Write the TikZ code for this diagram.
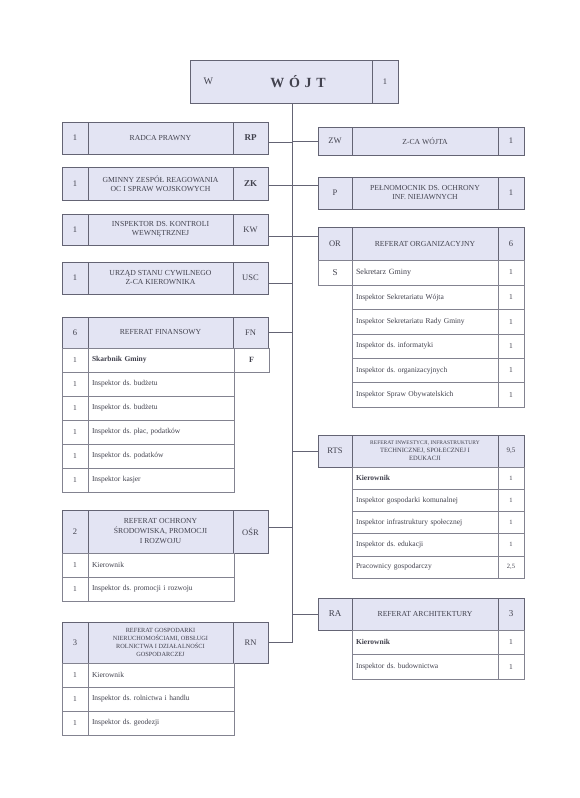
\documentclass[tikz,border=0pt]{standalone}
\usepackage{fontspec}
\setmainfont{Liberation Serif}
\usepackage{tikz}
\usetikzlibrary{positioning}
\definecolor{headc}{RGB}{227,228,243}
\definecolor{framec}{RGB}{100,100,116}
\definecolor{inkc}{RGB}{66,66,78}
\frenchspacing

\begin{document}
\begin{tikzpicture}[x=1pt, y=-1pt,
  % lavender header cells
  hcell/.style={draw=framec, line width=0.9pt, fill=headc, outer sep=0pt, inner sep=1pt,
                align=center, text=inkc, font=\fontsize{7.7pt}{9pt}\selectfont},
  hnum/.style={hcell, font=\fontsize{8.5pt}{10pt}\selectfont},
  % white list rows under a department
  rnum/.style={draw=framec!80, line width=0.6pt, fill=white, outer sep=0pt, inner sep=0pt,
               minimum width=26pt, text=inkc, font=\fontsize{7.5pt}{9pt}\selectfont},
  rname/.style={draw=framec!80, line width=0.6pt, fill=white, outer sep=0pt, inner xsep=4pt, inner ysep=0pt,
                text width=138pt, align=left, text=inkc, font=\fontsize{7.5pt}{9pt}\selectfont},
  link/.style={framec, line width=0.8pt},
]

\fill[white] (0,0) rectangle (580,798);
\useasboundingbox (0,0) rectangle (580,798);

%% ── head of the office ───────────────────────────────────────────
\node[hcell, anchor=north west, minimum width=182pt, minimum height=43pt] (wojt) at (190,60) {};
\node[hnum, right=0pt of wojt, minimum width=26pt, minimum height=43pt] (wojt-n) {1};
\node[text=inkc, font=\fontsize{10pt}{12pt}\selectfont, right=10pt of wojt.west] (wojt-w) {W};
\node[text=inkc, font=\fontsize{14pt}{16pt}\selectfont\bfseries] (wojt-t) at (298,81.5) {W\,\,Ó\,\,J\,\,T};

%% ── left column : single posts ───────────────────────────────────
\node[hnum, anchor=north west, minimum width=26pt, minimum height=32pt] (rp-n) at (62,122) {1};
\node[hcell, right=0pt of rp-n, minimum width=145pt, minimum height=32pt] (rp) {RADCA PRAWNY};
\node[hnum, right=0pt of rp, minimum width=35pt, minimum height=32pt, font=\fontsize{9pt}{10pt}\selectfont\bfseries] (rp-a) {RP};

\node[hnum, anchor=north west, minimum width=26pt, minimum height=33pt] (zk-n) at (62,167) {1};
\node[hcell, right=0pt of zk-n, minimum width=145pt, minimum height=33pt] (zk) {GMINNY ZESPÓŁ REAGOWANIA\\OC I SPRAW WOJSKOWYCH};
\node[hnum, right=0pt of zk, minimum width=35pt, minimum height=33pt, font=\fontsize{9pt}{10pt}\selectfont\bfseries] (zk-a) {ZK};

\node[hnum, anchor=north west, minimum width=26pt, minimum height=31pt] (kw-n) at (62,214) {1};
\node[hcell, right=0pt of kw-n, minimum width=145pt, minimum height=31pt] (kw) {INSPEKTOR DS. KONTROLI\\WEWNĘTRZNEJ};
\node[hnum, right=0pt of kw, minimum width=35pt, minimum height=31pt] (kw-a) {KW};

\node[hnum, anchor=north west, minimum width=26pt, minimum height=32pt] (usc-n) at (62,262) {1};
\node[hcell, right=0pt of usc-n, minimum width=145pt, minimum height=32pt] (usc) {URZĄD STANU CYWILNEGO\\Z-CA KIEROWNIKA};
\node[hnum, right=0pt of usc, minimum width=35pt, minimum height=32pt] (usc-a) {USC};

%% ── left column : finance department ─────────────────────────────
\node[hnum, anchor=north west, minimum width=26pt, minimum height=31pt] (fn-n) at (62,317) {6};
\node[hcell, right=0pt of fn-n, minimum width=145pt, minimum height=31pt] (fn) {REFERAT FINANSOWY};
\node[hnum, right=0pt of fn, minimum width=35pt, minimum height=31pt] (fn-a) {FN};

\node[rnum, anchor=north west, minimum height=24pt] (fn-c0) at (62,348) {1};
\node[rname, right=0pt of fn-c0, minimum height=24pt, font=\fontsize{7.5pt}{9pt}\selectfont\bfseries] (fn-r0) {Skarbnik Gminy};
\node[rnum, right=0pt of fn-r0, minimum width=35pt, minimum height=24pt, font=\fontsize{8pt}{9pt}\selectfont\bfseries] (fn-f) {F};
\foreach \i/\lab in {1/{Inspektor ds. budżetu}, 2/{Inspektor ds. budżetu}, 3/{Inspektor ds. płac, podatków},
                     4/{Inspektor ds. podatków}, 5/{Inspektor kasjer}}{
  \node[rnum, anchor=north west, minimum height=24pt] (fn-c\i) at ({62},{372+24*(\i-1)}) {1};
  \node[rname, right=0pt of fn-c\i, minimum height=24pt] (fn-r\i) {\lab};
}

%% ── left column : environment department ─────────────────────────
\node[hnum, anchor=north west, minimum width=26pt, minimum height=43pt] (osr-n) at (62,510) {2};
\node[hcell, right=0pt of osr-n, minimum width=145pt, minimum height=43pt, font=\fontsize{7.7pt}{10pt}\selectfont] (osr)
  {REFERAT OCHRONY\\ŚRODOWISKA, PROMOCJI\\I ROZWOJU};
\node[hnum, right=0pt of osr, minimum width=35pt, minimum height=43pt] (osr-a) {OŚR};
\foreach \i/\lab in {1/{Kierownik}, 2/{Inspektor ds. promocji i rozwoju}}{
  \node[rnum, anchor=north west, minimum height=24pt] (osr-c\i) at ({62},{553+24*(\i-1)}) {1};
  \node[rname, right=0pt of osr-c\i, minimum height=24pt] (osr-r\i) {\lab};
}

%% ── left column : real estate department ─────────────────────────
\node[hnum, anchor=north west, minimum width=26pt, minimum height=41pt] (rn-n) at (62,622) {3};
\node[hcell, right=0pt of rn-n, minimum width=145pt, minimum height=41pt, font=\fontsize{6.3pt}{7.8pt}\selectfont] (rn)
  {REFERAT GOSPODARKI\\NIERUCHOMOŚCIAMI, OBSŁUGI\\ROLNICTWA I DZIAŁALNOŚCI\\GOSPODARCZEJ};
\node[hnum, right=0pt of rn, minimum width=35pt, minimum height=41pt] (rn-a) {RN};
\foreach \i/\lab in {1/{Kierownik}, 2/{Inspektor ds. rolnictwa i handlu}, 3/{Inspektor ds. geodezji}}{
  \node[rnum, anchor=north west, minimum height=24pt] (rn-c\i) at ({62},{663+24*(\i-1)}) {1};
  \node[rname, right=0pt of rn-c\i, minimum height=24pt] (rn-r\i) {\lab};
}

%% ── right column : deputy and plenipotentiary ────────────────────
\node[hnum, anchor=north west, minimum width=34pt, minimum height=28pt] (zw-a) at (318,127) {ZW};
\node[hcell, right=0pt of zw-a, minimum width=146pt, minimum height=28pt] (zw) {Z-CA WÓJTA};
\node[hnum, right=0pt of zw, minimum width=26pt, minimum height=28pt] (zw-n) {1};

\node[hnum, anchor=north west, minimum width=34pt, minimum height=32pt] (p-a) at (318,177) {P};
\node[hcell, right=0pt of p-a, minimum width=146pt, minimum height=32pt] (p) {PEŁNOMOCNIK DS. OCHRONY\\INF. NIEJAWNYCH};
\node[hnum, right=0pt of p, minimum width=26pt, minimum height=32pt] (p-n) {1};

%% ── right column : organisation department ───────────────────────
\node[hnum, anchor=north west, minimum width=34pt, minimum height=33pt] (or-a) at (318,227) {OR};
\node[hcell, right=0pt of or-a, minimum width=146pt, minimum height=33pt] (or) {REFERAT ORGANIZACYJNY};
\node[hnum, right=0pt of or, minimum width=26pt, minimum height=33pt] (or-n) {6};

\node[rnum, anchor=north west, minimum width=34pt, minimum height=25pt, font=\fontsize{9pt}{10pt}\selectfont] (or-s) at (318,260) {S};
\node[rname, right=0pt of or-s, minimum height=25pt, font=\fontsize{8pt}{9pt}\selectfont] (or-r0) {Sekretarz Gminy};
\node[rnum, right=0pt of or-r0, minimum height=25pt] (or-c0) {1};
\foreach \i/\lab in {1/{Inspektor Sekretariatu Wójta}, 2/{Inspektor Sekretariatu Rady Gminy}, 3/{Inspektor ds. informatyki},
                     4/{Inspektor ds. organizacyjnych}, 5/{Inspektor Spraw Obywatelskich}}{
  \node[rname, anchor=north west, minimum height=24.4pt] (or-r\i) at ({352},{285+24.4*(\i-1)}) {\lab};
  \node[rnum, right=0pt of or-r\i, minimum height=24.4pt] (or-c\i) {1};
}

%% ── right column : investment department ─────────────────────────
\node[hnum, anchor=north west, minimum width=34pt, minimum height=32pt] (rts-a) at (318,435) {RTS};
\node[hcell, right=0pt of rts-a, minimum width=146pt, minimum height=32pt, font=\fontsize{6.5pt}{8pt}\selectfont] (rts)
  {{\fontsize{5.5pt}{7pt}\selectfont REFERAT INWESTYCJI, INFRASTRUKTURY}\\TECHNICZNEJ, SPOŁECZNEJ I\\EDUKACJI};
\node[hnum, right=0pt of rts, minimum width=26pt, minimum height=32pt, font=\fontsize{7pt}{8pt}\selectfont] (rts-n) {9,5};
\foreach \i/\lab/\num in {1/{\textbf{Kierownik}}/1, 2/{Inspektor gospodarki komunalnej}/1, 3/{Inspektor infrastruktury społecznej}/1,
                          4/{Inspektor ds. edukacji}/1, 5/{Pracownicy gospodarczy}/{2,5}}{
  \node[rname, anchor=north west, minimum height=22.2pt] (rts-r\i) at ({352},{467+22.2*(\i-1)}) {\lab};
  \node[rnum, right=0pt of rts-r\i, minimum height=22.2pt, font=\fontsize{6.5pt}{8pt}\selectfont] (rts-c\i) {\num};
}

%% ── right column : architecture department ───────────────────────
\node[hnum, anchor=north west, minimum width=34pt, minimum height=32pt, font=\fontsize{9pt}{10pt}\selectfont] (ra-a) at (318,598) {RA};
\node[hcell, right=0pt of ra-a, minimum width=146pt, minimum height=32pt] (ra) {REFERAT ARCHITEKTURY};
\node[hnum, right=0pt of ra, minimum width=26pt, minimum height=32pt, font=\fontsize{9pt}{10pt}\selectfont] (ra-n) {3};
\foreach \i/\lab in {1/{\textbf{Kierownik}}, 2/{Inspektor ds. budownictwa}}{
  \node[rname, anchor=north west, minimum height=24.5pt] (ra-r\i) at ({352},{630+24.5*(\i-1)}) {\lab};
  \node[rnum, right=0pt of ra-r\i, minimum height=24.5pt] (ra-c\i) {1};
}

%% ── trunk and branches ───────────────────────────────────────────
\coordinate (trk) at (292,0);
\draw[link] (wojt.south -| trk) -- (trk |- rn-a.east);

\draw[link] ([yshift=-4pt]rp-a.east) -- ([yshift=-4pt]rp-a.east -| trk);
\draw[link] ([yshift=-2pt]zk-a.east) -- ([yshift=-2pt]zk-a.east -| p-a.west);
\draw[link] ([yshift=-7pt]kw-a.east) -- ([yshift=-7pt]kw-a.east -| or-a.west);
\draw[link] ([yshift=-5pt]usc-a.east) -- ([yshift=-5pt]usc-a.east -| trk);
\draw[link] (fn-a.east) -- (fn-a.east -| trk);
\draw[link] ([yshift=4pt]osr-a.east) -- ([yshift=4pt]osr-a.east -| trk);
\draw[link] (rn-a.east) -- (rn-a.east -| trk);

\draw[link] (zw-a.west -| trk) -- (zw-a.west);
\draw[link] (rts-a.west -| trk) -- (rts-a.west);
\draw[link] (ra-a.west -| trk) -- (ra-a.west);

\end{tikzpicture}
\end{document}
